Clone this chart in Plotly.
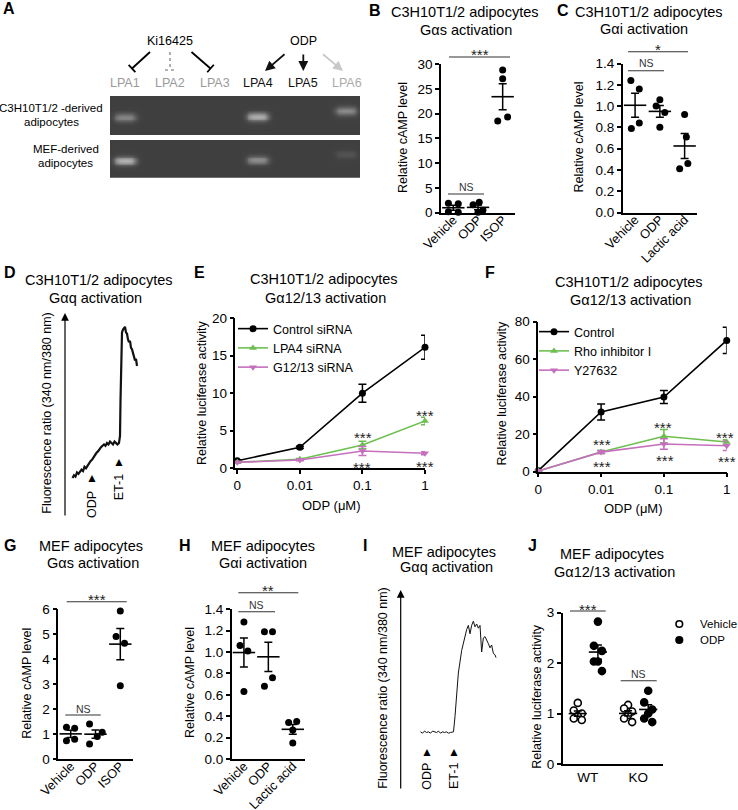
import numpy as np
import plotly.graph_objects as go

W, H = 738, 810
FONT = "Arial, Liberation Sans, Helvetica, sans-serif"
GREEN = "#6dbf50"
PINK = "#c56fbd"

# ---------------- data ----------------
lpa_lanes = ["LPA1", "LPA2", "LPA3", "LPA4", "LPA5", "LPA6"]
lane_colors = ["#9a9a9a", "#9a9a9a", "#9a9a9a", "#111111", "#111111", "#aaaaaa"]
gel_c3h_band = [0.38, 0.0, 0.0, 0.60, 0.0, 0.42]
gel_mef_band = [0.62, 0.0, 0.0, 0.42, 0.0, 0.10]
band_migration = [0.55, 0.55, 0.55, 0.53, 0.55, 0.38]

cats_isop = ["Vehicle", "ODP", "ISOP"]
cats_lactic = ["Vehicle", "ODP", "Lactic acid"]

b_vehicle = [1.9, 1.8, 0.2, 0.1]
b_odp = [2.1, 1.6, 0.5, 0.1]
b_isop = [28.8, 27.0, 19.3, 18.5]

c_vehicle = [1.24, 1.16, 0.84, 0.79]
c_odp = [1.06, 1.00, 0.94, 0.80]
c_lactic = [0.92, 0.71, 0.41, 0.46]

d_time = [25, 28, 31, 34, 37, 40, 43, 46, 49, 52, 55, 58, 61, 64, 67, 70, 73, 76, 79, 82,
          85, 88, 91, 94, 97, 100, 103, 106, 109, 112, 115, 118, 120, 121, 122, 123, 124,
          126, 128, 130, 132, 134, 136, 138, 140, 142, 144, 146, 148, 150, 152, 154]
d_ratio = [0.80, 0.82, 0.81, 0.84, 0.83, 0.85, 0.86, 0.85, 0.88, 0.87, 0.89, 0.90, 0.92, 0.93,
           0.95, 0.96, 0.98, 0.99, 1.01, 1.02, 1.03, 1.04, 1.03, 1.05, 1.04, 1.06, 1.05, 1.04,
           1.06, 1.05, 1.04, 1.05, 1.10, 1.35, 1.62, 1.80, 1.84, 1.86, 1.87, 1.88, 1.84, 1.83,
           1.79, 1.77, 1.78, 1.73, 1.72, 1.69, 1.68, 1.64, 1.65, 1.60]

odp_doses = ["0", "0.01", "0.1", "1"]
e_control = [1.0, 2.8, 10.0, 16.1]
e_control_sem = [0.1, 0.15, 1.2, 1.6]
e_lpa4 = [0.8, 1.2, 3.1, 6.3]
e_lpa4_sem = [0.05, 0.1, 0.5, 0.5]
e_g1213 = [0.8, 1.1, 2.3, 2.0]
e_g1213_sem = [0.05, 0.1, 0.6, 0.2]

f_control = [0.5, 31.8, 39.8, 70.0]
f_control_sem = [0.3, 4.3, 3.5, 7.0]
f_rho = [0.3, 10.5, 18.9, 15.8]
f_rho_sem = [0.2, 0.8, 3.6, 1.2]
f_y27632 = [0.3, 10.4, 14.7, 13.8]
f_y27632_sem = [0.2, 0.8, 2.8, 2.5]

g_vehicle = [1.27, 1.23, 0.73, 0.79]
g_odp = [1.40, 1.07, 0.90, 0.60]
g_isop = [5.92, 4.90, 4.63, 2.93]

h_vehicle = [1.28, 1.06, 1.01, 0.63]
h_odp = [1.19, 1.19, 0.76, 0.68]
h_lactic = [0.34, 0.35, 0.27, 0.15]

i_time = [51, 55, 59, 63, 67, 71, 75, 79, 83, 87, 91, 95, 99, 103, 107, 111, 115,
          117, 120, 126.7, 133.3, 140, 143.3, 146.7, 150, 153.3, 156.7, 160, 163.3, 166.7,
          170, 173.3, 176.7, 180, 183.3, 186.7, 190, 193.3, 196.7, 200, 202]
i_ratio = [0.93, 0.92, 0.935, 0.925, 0.93, 0.92, 0.935, 0.93, 0.925, 0.935, 0.92, 0.93, 0.925,
           0.93, 0.92, 0.925, 0.93,
           0.93, 1.04, 1.35, 1.51, 1.62, 1.66, 1.69, 1.63, 1.69, 1.72, 1.68, 1.70, 1.67,
           1.69, 1.50, 1.60, 1.61, 1.59, 1.56, 1.53, 1.55, 1.49, 1.48, 1.46]

j_genotypes = ["WT", "KO"]
j_treatments = ["Vehicle", "ODP"]
j_wt_vehicle = [1.21, 1.06, 1.00, 0.95, 0.90, 0.87]
j_wt_odp = [2.82, 2.34, 2.24, 2.03, 2.03, 1.84]
j_ko_vehicle = [1.17, 1.10, 1.04, 0.97, 0.90, 0.83]
j_ko_odp = [1.45, 1.22, 1.08, 1.00, 0.90, 0.83]

# ---------------- layout helpers ----------------
def xd(a, b):
    return [a / W, b / W]

def yd(top, bot):
    return [1 - bot / H, 1 - top / H]

fig = go.Figure()

def ann(x, y, text, size=13, color="black", xanchor="center", yanchor="middle", **kw):
    fig.add_annotation(x=x / W, y=1 - y / H, xref="paper", yref="paper", text=text,
                       showarrow=False, xanchor=xanchor, yanchor=yanchor,
                       font=dict(family=FONT, size=size, color=color), **kw)

def pline(x0, y0, x1, y1, color="black", width=1.2, dash=None):
    fig.add_shape(type="line", xref="paper", yref="paper",
                  x0=x0 / W, x1=x1 / W, y0=1 - y0 / H, y1=1 - y1 / H,
                  line=dict(color=color, width=width, dash=dash))

def axstyle(**kw):
    base = dict(showline=True, linecolor="black", linewidth=1.5, ticks="outside",
                ticklen=4, tickwidth=1.5, tickcolor="black", showgrid=False, zeroline=False,
                tickfont=dict(family=FONT, size=13.5, color="black"), fixedrange=True,
                automargin=False)
    base.update(kw)
    return base

def hidden(**kw):
    base = dict(visible=False, showgrid=False, zeroline=False, fixedrange=True)
    base.update(kw)
    return base

layout_axes = {}

# ---------------- Panel A: gels ----------------
gx = np.linspace(-0.34, 5.32, 140)
gy = np.linspace(0, 1, 44)
GX, GY = np.meshgrid(gx, gy)
for k, (band, dom) in enumerate([(gel_c3h_band, yd(96, 135)), (gel_mef_band, yd(140, 177.7))]):
    z = np.full(GX.shape, 0.03)
    for lane, (inten, pos) in enumerate(zip(band, band_migration)):
        if inten > 0:
            z += inten * np.exp(-((GX - lane) / 0.25) ** 4 - ((GY - pos) / 0.11) ** 2)
    ax_id = "" if k == 0 else "2"
    fig.add_trace(go.Heatmap(x=gx, y=gy, z=z, zmin=0, zmax=1, zsmooth="best", showscale=False,
                             colorscale=[[0, "#3a3a3a"], [1, "#f0f0f0"]], hoverinfo="skip",
                             xaxis="x" + ax_id, yaxis="y" + ax_id))
    layout_axes["xaxis" + ax_id] = hidden(domain=xd(110, 360), range=[-0.34, 5.32], anchor="y" + ax_id)
    layout_axes["yaxis" + ax_id] = hidden(domain=dom, range=[1, 0], anchor="x" + ax_id)

lane_px = [125, 170, 215, 258, 303, 346.7]
for name, col, xp in zip(lpa_lanes, lane_colors, lane_px):
    ann(xp, 82.5, name, size=12.5, color=col)
ann(170, 41, "Ki16425", size=12.5)
ann(303, 41, "ODP", size=12.5)
ann(51, 108, "C3H10T1/2 -derived", size=11.5)
ann(51, 122, "adipocytes", size=11.5)
ann(65.5, 148.5, "MEF-derived", size=11.5)
ann(65.5, 163, "adipocytes", size=11.5)

# inhibition T-bars
def tbar(x0, y0, x1, y1, color="black", dash=None):
    pline(x0, y0, x1, y1, color=color, width=1.8, dash=dash)
    dx, dy = x1 - x0, y1 - y0
    L = (dx ** 2 + dy ** 2) ** 0.5
    px_, py_ = -dy / L * 5, dx / L * 5
    pline(x1 - px_, y1 - py_, x1 + px_, y1 + py_, color=color, width=1.8, dash=dash)

tbar(150, 52, 132, 68.5)
tbar(191.5, 52, 210.5, 68.5)
pline(170, 52, 170, 70, color="#9a9a9a", width=1.6, dash="dot")
pline(165, 70, 175, 70, color="#9a9a9a", width=1.6, dash="dot")

for (tx, ty, hx, hy, col) in [(286, 53, 265, 71, "#111111"), (303.3, 53, 303.3, 71, "#111111"),
                              (321.5, 53, 343, 71, "#c8c8c8")]:
    fig.add_annotation(x=hx / W, y=1 - hy / H, xref="paper", yref="paper", text="",
                       showarrow=True, ax=tx - hx, ay=ty - hy, arrowhead=2, arrowsize=1.1,
                       arrowwidth=1.8, arrowcolor=col)

# ---------------- dot plots ----------------
def dotplot(n, groups, offsets, meanw=16):
    for i, (vals, offs) in enumerate(zip(groups, offsets)):
        fig.add_trace(go.Scatter(x=[i + o for o in offs], y=vals, mode="markers",
                                 marker=dict(size=7, color="black"), showlegend=False,
                                 cliponaxis=False, xaxis="x" + n, yaxis="y" + n, hoverinfo="skip"))
        m = float(np.mean(vals))
        s = float(np.std(vals, ddof=1) / np.sqrt(len(vals)))
        fig.add_trace(go.Scatter(x=[i], y=[m], mode="markers",
                                 marker=dict(symbol="line-ew", size=meanw,
                                             line=dict(width=1.6, color="black")),
                                 error_y=dict(type="data", array=[s], color="black",
                                              thickness=1.5, width=4),
                                 showlegend=False, cliponaxis=False,
                                 xaxis="x" + n, yaxis="y" + n, hoverinfo="skip"))

ROT = dict(ticks="", tickangle=-45, ticklabelstandoff=-7,
           tickfont=dict(family=FONT, size=12.8, color="black"))
# B
dotplot("3", [b_vehicle, b_odp, b_isop],
        [[-0.2, 0.2, -0.2, 0.2], [0.05, -0.2, 0.2, 0.0], [0.0, 0.0, 0.2, -0.2]])
layout_axes["xaxis3"] = axstyle(domain=xd(441, 515), range=[-0.5, 2.5], tickvals=[0, 1, 2],
                                ticktext=cats_isop, anchor="y3", **ROT)
layout_axes["yaxis3"] = axstyle(domain=yd(64, 212.7), range=[0, 30], dtick=5, anchor="x3")
# C
dotplot("4", [c_vehicle, c_odp, c_lactic],
        [[-0.17, 0.17, 0.17, -0.15], [0.0, -0.15, 0.2, 0.0], [0.0, 0.07, -0.2, 0.13]])
layout_axes["xaxis4"] = axstyle(domain=xd(622.7, 697), range=[-0.5, 2.5], tickvals=[0, 1, 2],
                                ticktext=cats_lactic, anchor="y4", **ROT)
layout_axes["yaxis4"] = axstyle(domain=yd(63.5, 212.5), range=[0, 1.4], dtick=0.2,
                                tickformat=".1f", anchor="x4")
# G
dotplot("8", [g_vehicle, g_odp, g_isop],
        [[-0.17, 0.16, -0.17, 0.16], [-0.24, 0.27, 0.07, -0.24], [0.0, -0.17, 0.17, 0.0]])
layout_axes["xaxis8"] = axstyle(domain=xd(58.3, 132.7), range=[-0.5, 2.5], tickvals=[0, 1, 2],
                                ticktext=cats_isop, anchor="y8", **ROT)
layout_axes["yaxis8"] = axstyle(domain=yd(609, 759), range=[0, 6], dtick=1, anchor="x8")
# H
dotplot("9", [h_vehicle, h_odp, h_lactic],
        [[0.0, -0.16, 0.16, 0.0], [-0.16, 0.17, 0.17, -0.16], [-0.17, 0.16, 0.0, 0.0]])
layout_axes["xaxis9"] = axstyle(domain=xd(231.7, 305), range=[-0.5, 2.5], tickvals=[0, 1, 2],
                                ticktext=cats_lactic, anchor="y9", **ROT)
layout_axes["yaxis9"] = axstyle(domain=yd(609.2, 759), range=[0, 1.4], dtick=0.2,
                                tickformat=".1f", anchor="x9")

# ---------------- D and I: calcium traces ----------------
fig.add_trace(go.Scatter(x=d_time, y=d_ratio, mode="lines", line=dict(color="#111111", width=2.2),
                         showlegend=False, xaxis="x5", yaxis="y5", hoverinfo="skip"))
layout_axes["xaxis5"] = hidden(domain=xd(60, 150), range=[0, 180], anchor="y5")
layout_axes["yaxis5"] = hidden(domain=yd(310, 520), range=[0.5, 2.0], anchor="x5")

fig.add_trace(go.Scatter(x=i_time, y=i_ratio, mode="lines", line=dict(color="#111111", width=1),
                         showlegend=False, xaxis="x10", yaxis="y10", hoverinfo="skip"))
layout_axes["xaxis10"] = hidden(domain=xd(395, 510), range=[0, 230], anchor="y10")
layout_axes["yaxis10"] = hidden(domain=yd(588, 792), range=[0.5, 0.5 + 204 / 140], anchor="x10")

for (xa, ytop, ybot) in [(65, 313, 517), (400.7, 590, 790)]:
    fig.add_annotation(x=xa / W, y=1 - ytop / H, xref="paper", yref="paper", text="",
                       showarrow=True, ax=0, ay=ybot - ytop, arrowhead=2, arrowsize=1.3,
                       arrowwidth=1.2, arrowcolor="black")

# arrowheads + labels for treatments
for (x, y) in [(92, 478), (119.3, 462), (426.7, 752), (454, 752)]:
    ann(x, y, "▲", size=12)
ann(92, 505, "ODP", size=12.5, textangle=-90)
ann(119.3, 487, "ET-1", size=12.5, textangle=-90)
ann(426.7, 776, "ODP", size=12.5, textangle=-90)
ann(454, 776, "ET-1", size=12.5, textangle=-90)

# ---------------- E and F: line charts ----------------
def linechart(n, legend, series):
    for name, vals, sem, color, symbol in series:
        fig.add_trace(go.Scatter(x=list(range(len(odp_doses))), y=vals, name=name,
                                 mode="lines+markers", line=dict(color=color, width=1.6),
                                 marker=dict(symbol=symbol, size=7, color=color),
                                 error_y=dict(type="data", array=sem, color=color,
                                              thickness=1.5, width=4),
                                 cliponaxis=False, legend=legend,
                                 xaxis="x" + n, yaxis="y" + n, hoverinfo="skip"))

linechart("6", "legend", [("Control siRNA", e_control, e_control_sem, "black", "circle"),
                          ("LPA4 siRNA", e_lpa4, e_lpa4_sem, GREEN, "triangle-up"),
                          ("G12/13 siRNA", e_g1213, e_g1213_sem, PINK, "triangle-down")])
linechart("7", "legend2", [("Control", f_control, f_control_sem, "black", "circle"),
                           ("Rho inhibitor I", f_rho, f_rho_sem, GREEN, "triangle-up"),
                           ("Y27632", f_y27632, f_y27632_sem, PINK, "triangle-down")])
layout_axes["xaxis6"] = axstyle(domain=xd(235.4, 425), range=[-0.03, 3], tickvals=[0, 1, 2, 3],
                                ticktext=odp_doses, anchor="y6")
layout_axes["yaxis6"] = axstyle(domain=yd(318, 468.3), range=[0, 20], dtick=5, anchor="x6")
layout_axes["xaxis7"] = axstyle(domain=xd(538.3, 726.7), range=[0, 3], tickvals=[0, 1, 2, 3],
                                ticktext=odp_doses, anchor="y7")
layout_axes["yaxis7"] = axstyle(domain=yd(321.7, 471.6), range=[0, 80], dtick=20, anchor="x7")

# ---------------- J ----------------
j_sets = [(j_wt_vehicle, 0, -0.2, "open"), (j_wt_odp, 0, 0.2, "fill"),
          (j_ko_vehicle, 1, -0.2, "open"), (j_ko_odp, 1, 0.2, "fill")]
j_jitter = [0.0, -0.08, 0.08, 0.0, -0.08, 0.08]
for k, (vals, g, off, kind) in enumerate(j_sets):
    fig.add_trace(go.Scatter(x=[g + off + jj for jj in j_jitter], y=vals, mode="markers",
                             showlegend=False,
                             marker=dict(size=7, color="white" if kind == "open" else "black",
                                         line=dict(color="black", width=1.6)),
                             cliponaxis=False, xaxis="x11", yaxis="y11", hoverinfo="skip"))
    m = float(np.mean(vals))
    s = float(np.std(vals, ddof=1) / np.sqrt(len(vals)))
    fig.add_trace(go.Scatter(x=[g + off], y=[m], mode="markers", showlegend=False,
                             marker=dict(symbol="line-ew", size=13, line=dict(width=1.6, color="black")),
                             error_y=dict(type="data", array=[s], color="black", thickness=1.5, width=4),
                             cliponaxis=False, xaxis="x11", yaxis="y11", hoverinfo="skip"))
layout_axes["xaxis11"] = axstyle(domain=xd(562.7, 663.3), range=[-0.5, 1.5], tickvals=[0, 1],
                                 ticktext=j_genotypes, ticks="", anchor="y11")
layout_axes["yaxis11"] = axstyle(domain=yd(612.5, 764), range=[0, 3], dtick=1, anchor="x11")

# J key (open = vehicle, filled = ODP)
for (yy, fill), label in zip([(624, "white"), (640, "black")], j_treatments):
    fig.add_shape(type="circle", xref="paper", yref="paper",
                  x0=(679.3 - 3.3) / W, x1=(679.3 + 3.3) / W,
                  y0=1 - (yy + 3.3) / H, y1=1 - (yy - 3.3) / H,
                  fillcolor=fill, line=dict(color="black", width=1.6))
    ann(697.5, yy, label, size=11.5, xanchor="left")

# ---------------- titles ----------------
titles = [
    (465, 12, "C3H10T1/2 adipocytes"), (465.5, 30, "Gαs activation"),
    (649, 12, "C3H10T1/2 adipocytes"), (644, 28.5, "Gαi activation"),
    (98.8, 280, "C3H10T1/2 adipocytes"), (95.5, 298, "Gαq activation"),
    (324, 278.5, "C3H10T1/2 adipocytes"), (325.8, 297.5, "Gα12/13 activation"),
    (628.8, 282, "C3H10T1/2 adipocytes"), (630, 299.5, "Gα12/13 activation"),
    (91.3, 546, "MEF adipocytes"), (93, 563, "Gαs activation"),
    (263.3, 546, "MEF adipocytes"), (263.2, 563, "Gαi activation"),
    (443.8, 552, "MEF adipocytes"), (446.3, 567, "Gαq activation"),
    (612, 553.5, "MEF adipocytes"), (614.7, 572, "Gα12/13 activation"),
]
for x, y, t in titles:
    ann(x, y, t, size=14.5)

letters = [(8.5, 9, "A"), (375, 10, "B"), (563, 10, "C"), (9.5, 272, "D"), (199.5, 272, "E"),
           (490, 272, "F"), (9.5, 545, "G"), (185, 545, "H"), (365, 545, "I"), (532, 545, "J")]
for x, y, t in letters:
    ann(x, y, "<b>" + t + "</b>", size=16)

# y-axis titles
ytitles = [(403, 138, "Relative cAMP level"), (578.5, 137, "Relative cAMP level"),
           (46.7, 413, "Fluorescence ratio (340 nm/380 nm)"),
           (202, 393, "Relative luciferase activity"), (501.5, 393, "Relative luciferase activity"),
           (26.7, 683, "Relative cAMP level"), (190, 683, "Relative cAMP level"),
           (382.7, 688, "Fluorescence ratio (340 nm/380 nm)"),
           (536.7, 696, "Relative luciferase activity")]
for x, y, t in ytitles:
    ann(x, y, t, size=12.5, textangle=-90)

ann(331.7, 505, "ODP (μM)", size=13)
ann(633, 508, "ODP (μM)", size=13)

# ---------------- significance marks ----------------
SIG = "#333333"
sig_lines = [(449, 510, 57), (448, 484, 194), (628, 688, 51.7), (628, 664, 70.7),
             (66.7, 126.7, 601.7), (65.3, 100.7, 715), (238.3, 298.3, 592.7), (238.3, 275, 611.7),
             (570, 605.7, 611), (620.7, 656.7, 680.7)]
for x0, x1, y in sig_lines:
    pline(x0, y, x1, y, color=SIG, width=1.1)
stars = [(479.5, 51, "***"), (657.5, 45.5, "*"), (96.7, 595.5, "***"), (268.3, 586.5, "**"),
         (588, 605, "***"),
         (362.7, 433.5, "***"), (361.7, 463.5, "***"), (425, 411, "***"), (425, 462.5, "***"),
         (601.7, 440, "***"), (602.3, 462.5, "***"), (663.3, 423.5, "***"), (665, 456, "***"),
         (725, 433, "***"), (726.7, 457.5, "***")]
for x, y, t in stars:
    ann(x, y + 4, t, size=15, color="#222222")
for x, y in [(466, 187), (646, 63.5), (83.3, 708.5), (256.7, 604.5), (638.5, 673.5)]:
    ann(x, y, "NS", size=10.5, color="#333333")

# ---------------- final layout ----------------
leg_common = dict(bgcolor="rgba(0,0,0,0)", font=dict(family=FONT, size=12.5, color="black"),
                  xanchor="left", yanchor="top", tracegroupgap=0, itemwidth=30,
                  borderwidth=0)
fig.update_layout(
    width=W, height=H, margin=dict(l=0, r=0, t=0, b=0, pad=0, autoexpand=False),
    paper_bgcolor="white", plot_bgcolor="rgba(0,0,0,0)",
    font=dict(family=FONT, size=13, color="black"),
    legend=dict(x=233 / W, y=1 - 314 / H, **leg_common),
    legend2=dict(x=534 / W, y=1 - 317 / H, **leg_common),
    **layout_axes,
)

fig.write_html("out.html", config={"displayModeBar": False},
               post_script="document.body.style.margin='0px';")
